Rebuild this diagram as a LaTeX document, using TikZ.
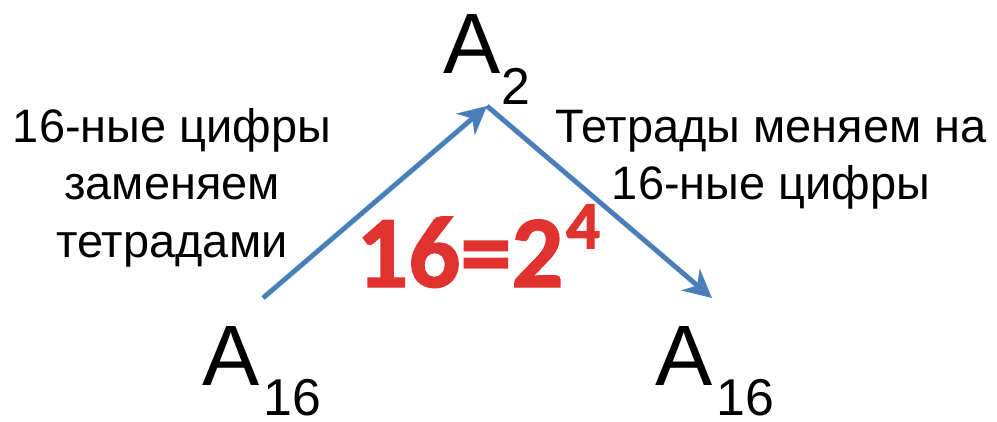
\documentclass[tikz,border=0pt]{standalone}
\usepackage{fontspec}
\setmainfont{Liberation Sans}
\newfontfamily\calfont[BoldFeatures={FakeBold=1.4}]{Carlito}
\usetikzlibrary{arrows.meta,positioning}
\definecolor{arrblue}{RGB}{74,126,187}
\definecolor{numred}{RGB}{224,50,46}
\tikzset{
  big/.style={font=\fontsize{48.8}{50}\selectfont, inner sep=0, anchor=base west},
  sub/.style={font=\fontsize{29.5}{30}\selectfont, inner sep=0, anchor=base west},
  lbl/.style={font=\fontsize{26.7}{32.5}\selectfont, align=center, inner sep=0, anchor=base},
  arr/.style={line width=2.8pt, draw=arrblue, -{Stealth[length=16pt,width=16pt,inset=5pt]}},
}
\begin{document}
\begin{tikzpicture}[x=0.02cm, y=-0.02cm]
\useasboundingbox (0,0) rectangle (997,422);
% A_2 on top, A_16 left and right
\node[big] (atop) at (443,74) {A};
\node[sub] (atopsub) at (atop.base east) [yshift=-17.6pt] {2};
\node[big] (aleft) at (202,385) {A};
\node[sub] (aleftsub) at (aleft.base east) [yshift=-17.6pt, xshift=2pt] {16};
\node[big] (aright) at (655,385) {A};
\node[sub] (arightsub) at (aright.base east) [yshift=-17.6pt, xshift=2pt] {16};
% Ends of the arrows
\coordinate (start) at (263,298);
\coordinate (apex) at (487,106);
\coordinate (finish) at (712,298);
\draw[arr] (start) -- (apex);
\draw[arr] (apex) -- (finish);
% Texts (base = last line)
\node[lbl] (ltext) at (172,257) {16-ные цифры\\заменяем\\тетрадами};
\node[lbl] (rtext) at (771,200) {Тетрады меняем на\\16-ные цифры};
\node[font=\calfont\bfseries\fontsize{58.4}{60}\selectfont, text=numred, inner sep=0, anchor=base west] (eq) at (356,287) {16=2};
\node[font=\calfont\bfseries\fontsize{38.5}{40}\selectfont, text=numred, inner sep=0, anchor=base west] (pow) at (eq.base east) [yshift=22pt, xshift=1pt] {4};
\end{tikzpicture}
\end{document}
